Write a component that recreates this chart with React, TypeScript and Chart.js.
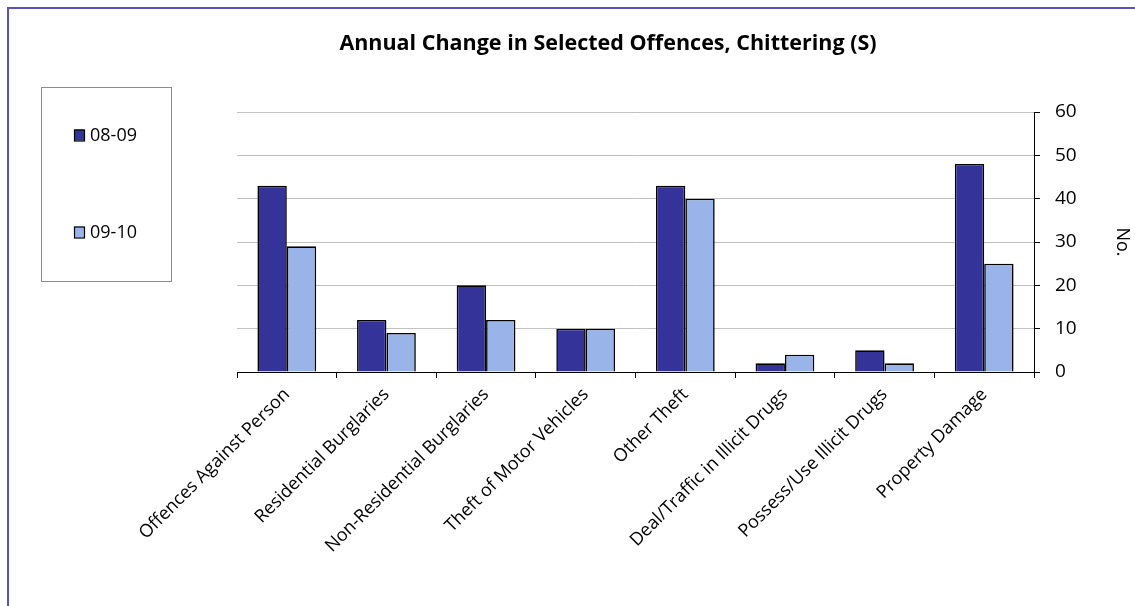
import React, { useEffect, useRef } from "react";
import { Chart, registerables } from "chart.js";

Chart.register(...registerables);

const chartTitle = "Annual Change in Selected Offences, Chittering (S)";
const yAxisTitle = "No.";
const categories = [
  "Offences Against Person",
  "Residential Burglaries",
  "Non-Residential Burglaries",
  "Theft of Motor Vehicles",
  "Other Theft",
  "Deal/Traffic in Illicit Drugs",
  "Possess/Use Illicit Drugs",
  "Property Damage",
];
const seriesLabels = ["08-09", "09-10"];
const values0809 = [43, 12, 20, 10, 43, 2, 5, 48];
const values0910 = [29, 9, 12, 10, 40, 4, 2, 25];
const yMin = 0;
const yMax = 60;
const yStep = 10;

const seriesColors = ["#333399", "#99b4e8"];
const FONT = "'Open Sans', 'DejaVu Sans', sans-serif";

const decorPlugin = {
  id: "decor",
  beforeDraw(chart: any) {
    const ctx = chart.ctx;
    ctx.save();
    ctx.fillStyle = "#ffffff";
    ctx.fillRect(0, 0, chart.width, chart.height);
    // outer frame (top + left visible)
    ctx.strokeStyle = "#5b52c2";
    ctx.lineWidth = 2;
    ctx.beginPath();
    ctx.moveTo(8, chart.height);
    ctx.lineTo(8, 8);
    ctx.lineTo(chart.width, 8);
    ctx.stroke();
    // title
    ctx.fillStyle = "#000000";
    ctx.font = `bold 21.5px ${FONT}`;
    ctx.textAlign = "center";
    ctx.textBaseline = "middle";
    ctx.fillText(chartTitle, 608, 44);
    // legend box
    ctx.strokeStyle = "#8c8c8c";
    ctx.lineWidth = 1;
    ctx.strokeRect(41.5, 87.5, 130, 194);
    const rowY = [135, 232];
    ctx.font = `18px ${FONT}`;
    ctx.textAlign = "left";
    chart.data.datasets.forEach((ds: any, i: number) => {
      const y = rowY[i];
      ctx.fillStyle = ds.backgroundColor;
      ctx.fillRect(74, y - 5.5, 10, 11);
      ctx.strokeStyle = "#000000";
      ctx.lineWidth = 1.2;
      ctx.strokeRect(74.5, y - 5, 10, 11);
      ctx.fillStyle = "#000000";
      ctx.fillText(ds.label, 90, y + 1);
    });
    ctx.restore();
  },
};

export default function App() {
  const canvasRef = useRef<HTMLCanvasElement | null>(null);

  useEffect(() => {
    if (!canvasRef.current) return;
    const chart = new Chart(canvasRef.current, {
      type: "bar",
      data: {
        labels: categories,
        datasets: [
          {
            label: seriesLabels[0],
            data: values0809,
            backgroundColor: seriesColors[0],
            borderColor: "#000000",
            borderWidth: 1.6,
            categoryPercentage: 0.59,
            barPercentage: 1.0,
          },
          {
            label: seriesLabels[1],
            data: values0910,
            backgroundColor: seriesColors[1],
            borderColor: "#000000",
            borderWidth: 1.6,
            categoryPercentage: 0.59,
            barPercentage: 1.0,
          },
        ],
      },
      options: {
        responsive: false,
        animation: false,
        devicePixelRatio: 1,
        layout: { padding: { left: 237, top: 112, right: 0, bottom: 0 } },
        plugins: {
          legend: { display: false },
          title: { display: false },
          tooltip: { enabled: false },
        },
        scales: {
          x: {
            offset: true,
            grid: {
              display: true,
              drawOnChartArea: false,
              drawTicks: true,
              tickLength: 6,
              color: "#000000",
              offset: true,
            },
            border: { color: "#000000", width: 1 },
            ticks: {
              autoSkip: false,
              minRotation: 45,
              maxRotation: 45,
              padding: 6,
              color: "#000000",
              font: { family: FONT, size: 18 },
            },
            afterFit(scale: any) {
              scale.height = 234;
            },
          },
          y: {
            position: "right",
            min: yMin,
            max: yMax,
            grid: {
              color: "#c0c0c0",
              tickColor: "#000000",
              tickLength: 6,
              lineWidth: 1,
            },
            border: { color: "#000000", width: 1 },
            ticks: {
              stepSize: yStep,
              padding: 15,
              color: "#000000",
              font: { family: FONT, size: 19 },
            },
            title: {
              display: true,
              text: yAxisTitle,
              color: "#000000",
              font: { family: FONT, size: 18 },
              padding: { top: 2, bottom: 2 },
            },
            afterFit(scale: any) {
              scale.width = 101;
            },
          },
        },
      },
      plugins: [decorPlugin],
    });
    return () => chart.destroy();
  }, []);

  return (
    <div
      style={{
        position: "absolute",
        left: 0,
        top: 0,
        width: 1135,
        height: 606,
        background: "#ffffff",
      }}
    >
      <canvas
        ref={canvasRef}
        width={1135}
        height={606}
        style={{ width: 1135, height: 606, display: "block" }}
      />
    </div>
  );
}
